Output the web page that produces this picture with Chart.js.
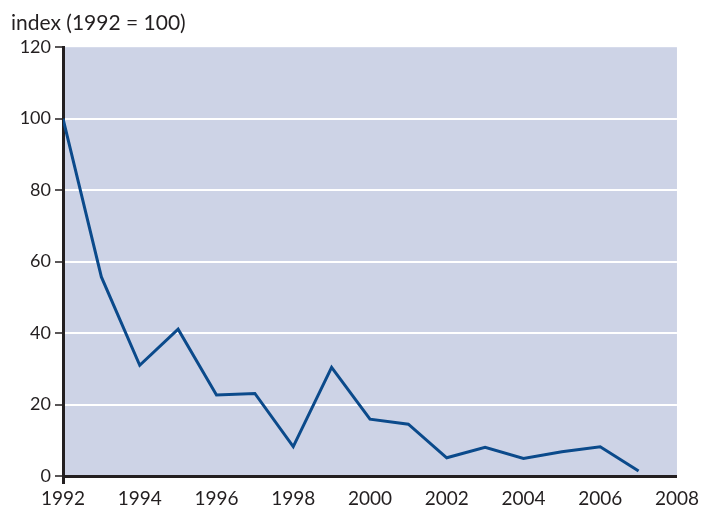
<!DOCTYPE html>
<html>
<head>
<meta charset="utf-8">
<script src="https://cdn.jsdelivr.net/npm/chart.js@4.4.1/dist/chart.umd.min.js"></script>
<style>
  body { margin: 0; background: #ffffff; }
</style>
</head>
<body>
<canvas id="chart" width="702" height="508"></canvas>
<script>
//Years on the x axis
const years = [1992, 1993, 1994, 1995, 1996, 1997, 1998, 1999, 2000, 2001, 2002, 2003, 2004, 2005, 2006, 2007];
//Index values (1992 = 100)
const indexValues = [100, 55.7, 31.0, 41.1, 22.7, 23.1, 8.2, 30.4, 15.9, 14.5, 5.1, 8.0, 4.9, 6.8, 8.2, 1.4];
//Axis range and title
const yearMin = 1992;
const yearMax = 2008;
const indexMax = 120;
const titleText = "index (1992 = 100)";

const ink = "#231f20";
const fontFamily = "Lato, 'Open Sans', sans-serif";

//Fill the plot area with the light blue background
const plotBackground = {
  id: "plotBackground",
  beforeDraw(chart) {
    const { ctx, chartArea } = chart;
    ctx.save();
    ctx.fillStyle = "#cdd3e6";
    ctx.fillRect(chartArea.left, chartArea.top, chartArea.right - chartArea.left, chartArea.bottom - chartArea.top);
    ctx.restore();
  },
};

const points = years.map((y, i) => ({ x: y, y: indexValues[i] }));

let myChart = new Chart(document.getElementById("chart"), {
  type: "line",
  plugins: [plotBackground],
  data: {
    datasets: [
      {
        data: points,
        borderColor: "#0b4a8b",
        borderWidth: 3,
        pointRadius: 0,
        tension: 0,
        fill: false,
      },
    ],
  },
  options: {
    responsive: false,
    animation: false,
    layout: { padding: { left: 11, right: 25, top: 0, bottom: 0 } },
    plugins: {
      legend: { display: false },
      tooltip: { enabled: false },
      title: {
        display: true,
        text: titleText,
        align: "start",
        color: ink,
        font: { family: fontFamily, size: 21, weight: "normal" },
        padding: { top: 11, bottom: 11 },
      },
    },
    scales: {
      x: {
        type: "linear",
        min: yearMin,
        max: yearMax,
        afterFit: (scale) => { scale.height = 32; },
        border: { display: true, color: ink, width: 3 },
        grid: {
          drawOnChartArea: false,
          tickLength: 8,
          tickWidth: 3,
          tickColor: (c) => (c.tick && c.tick.value === yearMin ? ink : "rgba(0,0,0,0)"),
        },
        ticks: {
          stepSize: 2,
          padding: 3,
          color: ink,
          font: { family: fontFamily, size: 19 },
          callback: (v) => String(v),
          maxRotation: 0,
        },
      },
      y: {
        min: 0,
        max: indexMax,
        afterFit: (scale) => { scale.width = 52; },
        border: { display: true, color: ink, width: 3 },
        grid: {
          color: (c) => (c.tick && (c.tick.value === 0 || c.tick.value === indexMax) ? "rgba(0,0,0,0)" : "#ffffff"),
          lineWidth: 2,
          tickLength: 8,
          tickWidth: 1.5,
          tickColor: ink,
        },
        ticks: {
          stepSize: 20,
          padding: 4,
          color: ink,
          font: { family: fontFamily, size: 18 },
        },
      },
    },
  },
});
</script>
</body>
</html>
